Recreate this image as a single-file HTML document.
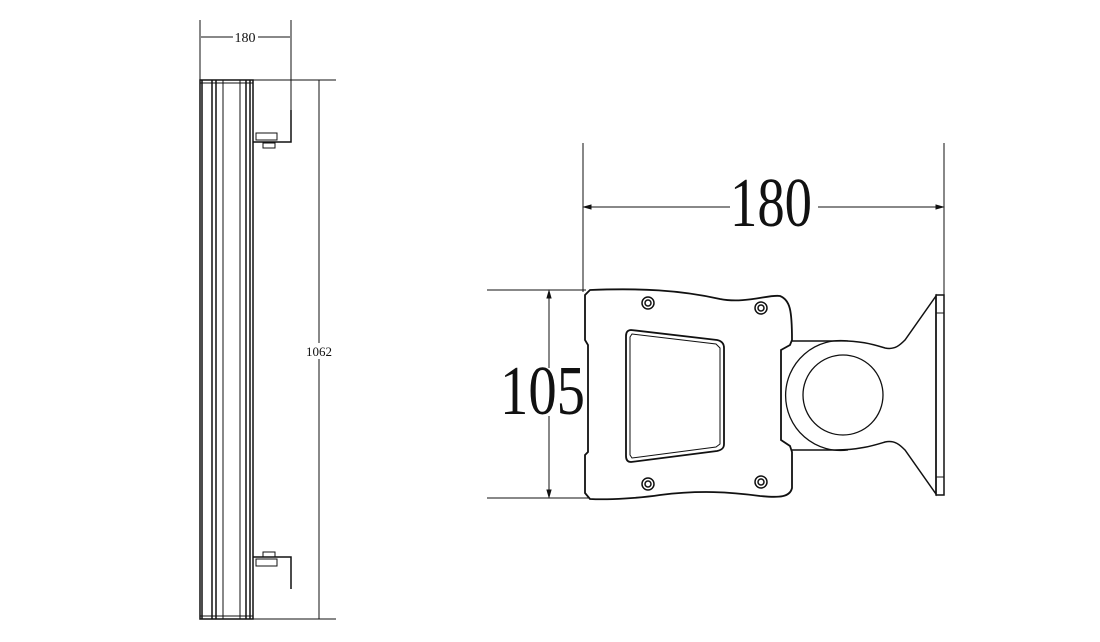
<!DOCTYPE html>
<html><head><style>html,body{margin:0;background:#fff}svg{display:block}</style></head>
<body>
<svg width="1100" height="642" viewBox="0 0 1100 642" xmlns="http://www.w3.org/2000/svg" font-family="Liberation Serif, serif" fill="none" stroke="#111" stroke-width="1">
<!-- left view dims -->
<line x1="200" y1="20" x2="200" y2="80"/>
<line x1="291" y1="20" x2="291" y2="142"/>
<line x1="201" y1="37" x2="233" y2="37"/><line x1="258" y1="37" x2="290" y2="37"/>
<text x="245" y="42" font-size="14" fill="#111" stroke="none" text-anchor="middle">180</text>
<line x1="200" y1="80" x2="336" y2="80"/>
<line x1="200" y1="619" x2="336" y2="619"/>
<line x1="319" y1="80" x2="319" y2="619"/>
<rect x="302" y="343" width="34" height="16" fill="#fff" stroke="none"/>
<text x="319" y="356" font-size="13" fill="#111" stroke="none" text-anchor="middle">1062</text>
<!-- bar -->
<rect x="200" y="80" width="53" height="539" stroke-width="1.5"/>
<line x1="202" y1="80" x2="202" y2="619" stroke-width="1.5"/>
<line x1="212" y1="80" x2="212" y2="619" stroke-width="1.5"/>
<line x1="216" y1="80" x2="216" y2="619" stroke-width="1.5"/>
<line x1="223" y1="80" x2="223" y2="619"/>
<line x1="240" y1="80" x2="240" y2="619"/>
<line x1="246" y1="80" x2="246" y2="619" stroke-width="1.5"/>
<line x1="250" y1="80" x2="250" y2="619" stroke-width="1.5"/>
<line x1="200" y1="83" x2="253" y2="83"/><line x1="200" y1="616" x2="253" y2="616"/>
<!-- brackets -->
<path d="M253 142 H291 V110" stroke-width="1.5"/>
<rect x="256" y="133" width="21" height="7"/>
<rect x="263" y="143" width="12" height="5"/>
<path d="M253 557 H291 V589" stroke-width="1.5"/>
<rect x="256" y="559" width="21" height="7"/>
<rect x="263" y="552" width="12" height="5"/>
<!-- right view dims -->
<line x1="583" y1="143" x2="583" y2="292"/>
<line x1="944" y1="143" x2="944" y2="295"/>
<line x1="584" y1="207" x2="730" y2="207"/><line x1="818" y1="207" x2="943" y2="207"/>
<path d="M584 207 l7 -2 v4z M943 207 l-7 -2 v4z" fill="#111"/>
<text x="730" y="226" font-size="70" textLength="82" lengthAdjust="spacingAndGlyphs" fill="#111" stroke="none">180</text>
<line x1="487" y1="290" x2="586" y2="290"/>
<line x1="487" y1="498" x2="590" y2="498"/>
<line x1="549" y1="291" x2="549" y2="368"/><line x1="549" y1="416" x2="549" y2="497"/>
<path d="M549 291 l-2 7 h4z M549 497 l-2 -7 h4z" fill="#111"/>
<text x="500" y="414" font-size="70" textLength="85" lengthAdjust="spacingAndGlyphs" fill="#111" stroke="none">105</text>
<!-- plate -->
<path d="M590 290 C640 288 680 290 720 299 C745 304 770 294 780 296 C790 300 792 310 792 340 L790 345 L781 350 L781 440 L790 446 L792 452 L792 488 C790 497 780 498 760 496 C730 492 700 490 660 495 C640 498 610 500 590 499 L585 493 L585 455 L588 452 L588 345 L585 340 L585 295 Z" stroke-width="1.8"/>
<path d="M631 330 L717 340 C722 341 724 344 724 348 L724 444 C724 448 722 450 717 451 L631 462 C627 462 626 459 626 456 L626 336 C626 332 628 330 631 330 Z" stroke-width="1.8"/>
<path d="M632 334 L716 344 L720 348 L720 444 L716 447 L632 458 L630 455 L630 337 Z"/>
<g stroke-width="1.5"><circle cx="648" cy="303" r="6"/><circle cx="648" cy="303" r="3"/>
<circle cx="761" cy="308" r="6"/><circle cx="761" cy="308" r="3"/>
<circle cx="648" cy="484" r="6"/><circle cx="648" cy="484" r="3"/>
<circle cx="761" cy="482" r="6"/><circle cx="761" cy="482" r="3"/></g>
<!-- boss and flange -->
<path d="M792 341 L835 341 C860 340 875 345 885 348 C895 350 900 345 905 340 L936 296 L936 494 L905 450 C900 445 895 440 885 442 C875 445 860 450 835 450 L792 450" stroke-width="1.5"/>
<path d="M848 341 A55 55 0 1 0 848 450" stroke-width="1.3"/>
<circle cx="843" cy="395" r="40" stroke-width="1.3"/>
<rect x="936" y="295" width="8" height="200" stroke-width="1.5"/>
<line x1="936" y1="313" x2="944" y2="313"/><line x1="936" y1="477" x2="944" y2="477"/>
</svg>
</body></html>
